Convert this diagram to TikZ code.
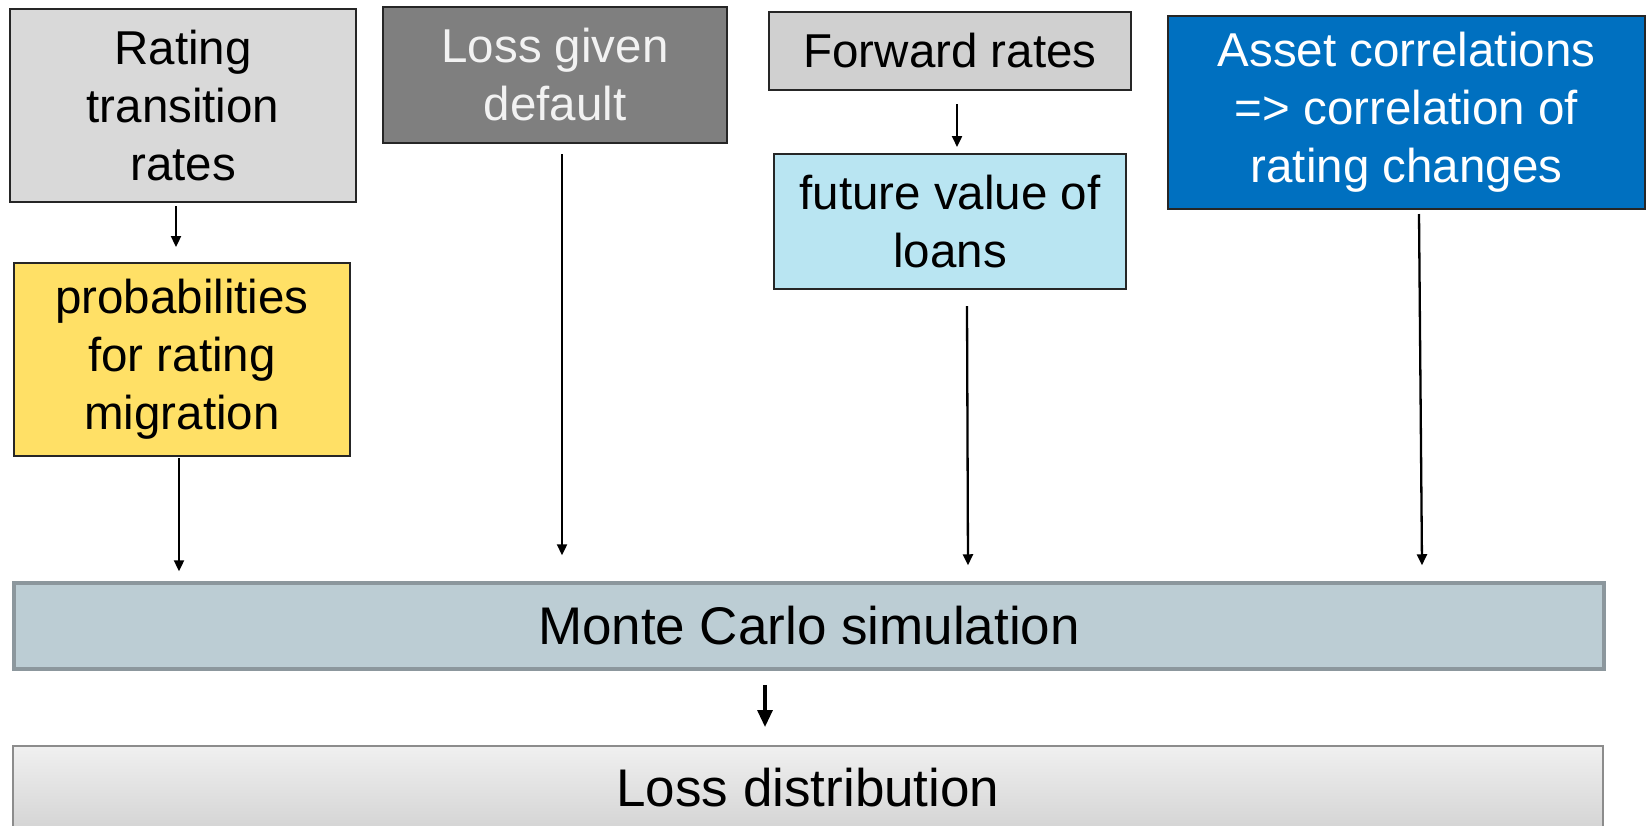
\documentclass[tikz,border=0pt]{standalone}
\usepackage{fontspec}
\setmainfont{Liberation Sans}
\usetikzlibrary{arrows.meta}
\definecolor{rtgray}{HTML}{D9D9D9}
\definecolor{pmyel}{HTML}{FFE066}
\definecolor{lgdgray}{HTML}{7F7F7F}
\definecolor{lgdtxt}{HTML}{F2F2F2}
\definecolor{frgray}{HTML}{D0D0D0}
\definecolor{fvblue}{HTML}{B9E5F2}
\definecolor{acblue}{HTML}{0070C0}
\definecolor{mcfill}{HTML}{BCCDD4}
\definecolor{mcline}{HTML}{8C979D}
\definecolor{ldtop}{HTML}{F0F0F0}
\definecolor{ldbot}{HTML}{D4D4D4}
\definecolor{ldline}{HTML}{8C8C8C}
\definecolor{edge}{HTML}{262626}
\tikzset{
  topbox/.style={draw=edge, line width=2pt, align=center, inner sep=0pt,
    font=\fontsize{47.5}{58}\selectfont},
  wideobox/.style={align=center, inner sep=0pt, minimum width=1590pt,
    font=\fontsize{53}{62}\selectfont},
  thinarr/.style={line width=2.3pt, -{Triangle[width=10pt,length=11pt]}},
  thickarr/.style={line width=3.2pt, -{Triangle[width=15pt,length=17pt]}}
}
\begin{document}
\begin{tikzpicture}[x=1pt,y=-1pt]
\useasboundingbox (0,0) rectangle (1648,825);
\node[topbox, fill=rtgray, minimum width=346pt, minimum height=193pt] (rt) at (183,105.5) {Rating\\transition\\rates};
\node[topbox, fill=pmyel, minimum width=336pt, minimum height=193pt] (pm) at (182,359.5) {probabilities\\for rating\\migration};
\node[topbox, fill=lgdgray, text=lgdtxt, minimum width=344pt, minimum height=136pt] (lgd) at (555,75) {Loss given\\default};
\node[topbox, fill=frgray, minimum width=362pt, minimum height=78pt] (fr) at (950,51) {Forward rates};
\node[topbox, fill=fvblue, minimum width=352pt, minimum height=135pt] (fv) at (950,221.5) {future value of\\loans};
\node[topbox, fill=acblue, text=white, minimum width=477pt, minimum height=193pt] (ac) at (1406.5,112.5) {Asset correlations\\=> correlation of\\rating changes};
\node[wideobox, draw=mcline, line width=3.5pt, fill=mcfill, minimum height=86pt] (mc) at (809,626) {Monte Carlo simulation};
\node[wideobox, draw=ldline, line width=2pt, top color=ldtop, bottom color=ldbot, minimum height=84pt] (ld) at (808,788) {Loss distribution};
% connectors
\draw[thinarr] ([xshift=-7pt,yshift=-3pt]rt.south) -- ([xshift=-6pt,yshift=15pt]pm.north);
\draw[thinarr] ([xshift=-3pt,yshift=-1pt]pm.south) -- ([xshift=-630pt,yshift=10pt]mc.north);
\draw[thinarr] ([xshift=7pt,yshift=-10pt]lgd.south) -- ([xshift=-247pt,yshift=26pt]mc.north);
\draw[thinarr] ([xshift=7pt,yshift=-13pt]fr.south) -- ([xshift=7pt,yshift=6pt]fv.north);
\draw[thinarr] ([xshift=17pt,yshift=-16pt]fv.south) -- ([xshift=159pt,yshift=16pt]mc.north);
\draw[thinarr] ([xshift=12.5pt,yshift=-4pt]ac.south) -- ([xshift=613pt,yshift=16pt]mc.north);
\draw[thickarr] ([xshift=-44pt,yshift=-14pt]mc.south) -- ([xshift=-43pt,yshift=18pt]ld.north);
\end{tikzpicture}
\end{document}
